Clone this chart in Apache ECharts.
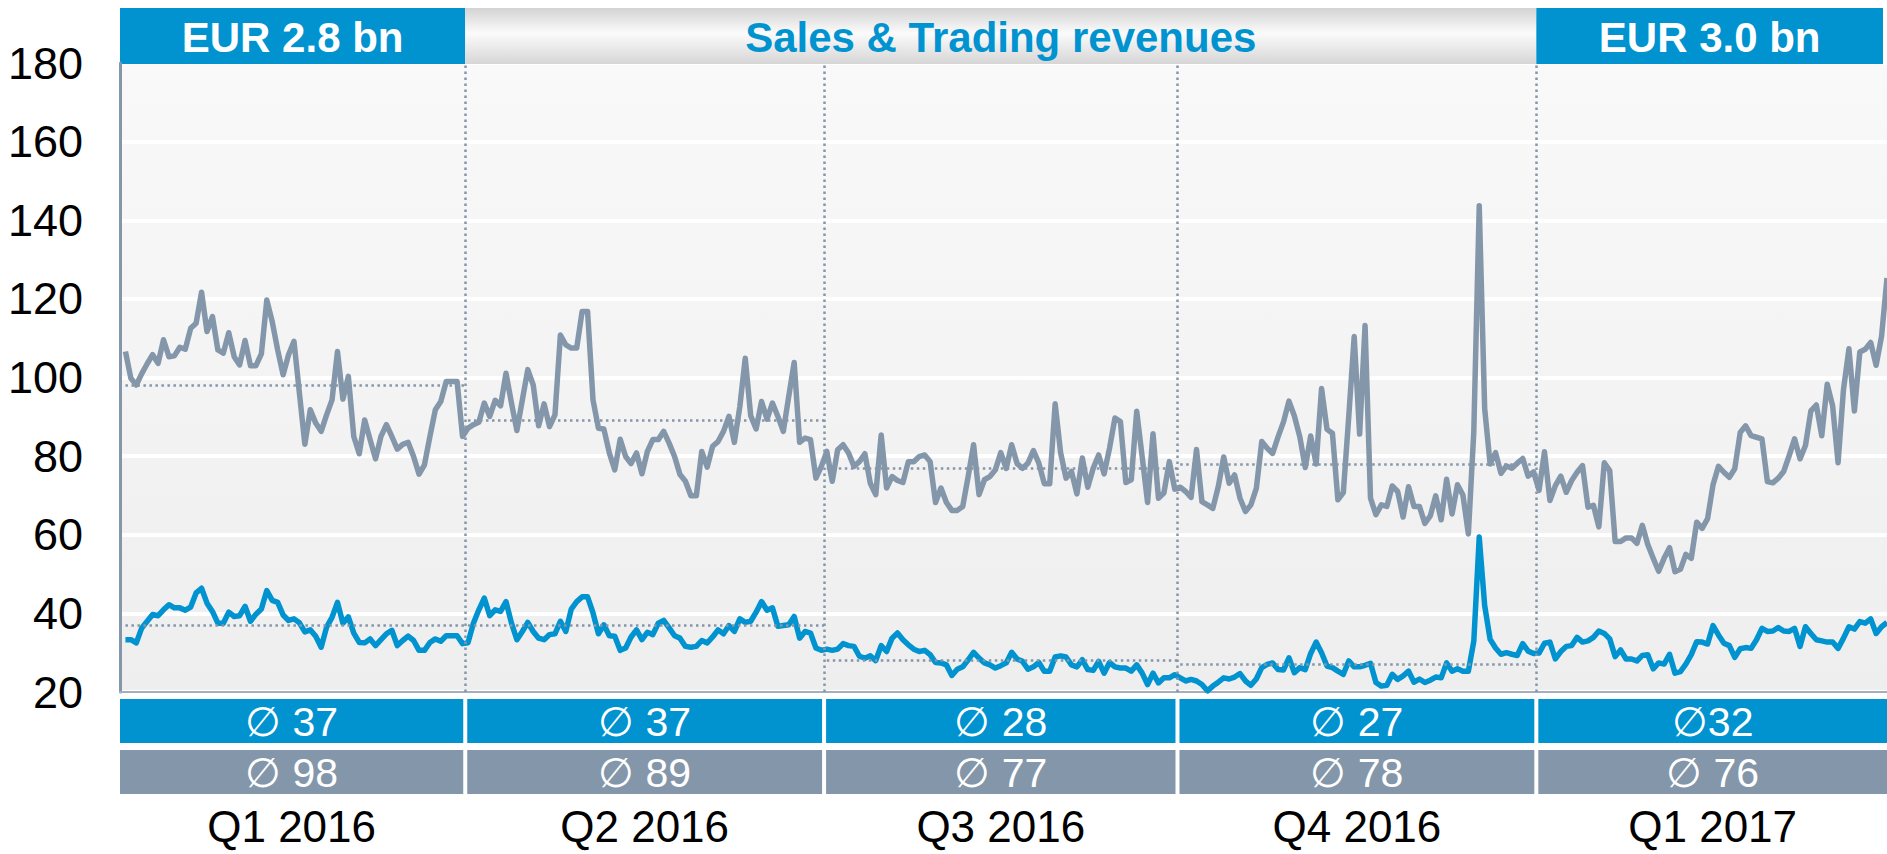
<!DOCTYPE html>
<html>
<head>
<meta charset="utf-8">
<title>Sales & Trading revenues</title>
<script src="https://cdn.jsdelivr.net/npm/echarts@6.0.0/dist/echarts.min.js"></script>
<style>
  html, body { margin: 0; padding: 0; background: #fff; }
  #chart { width: 1887px; height: 854px; }
</style>
</head>
<body>
<div id="chart"></div>
<script>
// daily values per quarter
const q1Gray = [106.6, 99.8, 98.1, 101, 103.5, 105.8, 103.6, 109.6, 105.3, 105.5, 107.7, 107.2, 112.5, 113.8, 121.7, 111.7, 115.5, 107, 106.2, 111.4, 105.3, 103.2, 109.4, 103, 103, 106, 119.7, 114.2, 107, 100.7, 105.8, 109.2, 96, 83, 91.8, 88.4, 86.3, 90.5, 94.3, 106.6, 94.5, 100.3, 85, 80.6, 89.2, 84.2, 79.3, 85, 88, 85, 81.8, 83, 83.5, 79.9, 75.4, 77.8, 85, 91.8, 93.9, 99, 99, 99, 85];
const q1Blue = [33.3, 33.3, 32.5, 36.3, 38, 39.7, 39.4, 40.9, 42.2, 41.4, 41.4, 40.8, 41.6, 45.2, 46.4, 42.6, 40.5, 37.5, 37.5, 40.3, 39.2, 39.4, 41.8, 38, 39.8, 41.1, 45.8, 43.3, 42.8, 39.6, 38.2, 38.6, 37.6, 35.3, 35.8, 34.2, 31.4, 36.5, 39, 42.8, 37.5, 39.1, 35, 32.6, 32.5, 33.5, 31.8, 33.3, 34.8, 35.7, 31.8, 33.1, 34.2, 33.1, 30.6, 30.6, 32.6, 33.5, 32.9, 34.3, 34.3, 34.3, 32.3];

const q2Gray = [87.1, 88, 88.6, 93.5, 90.1, 94.2, 92.8, 101.1, 93.5, 86.5, 94.3, 102, 98.1, 87.7, 93.3, 87.5, 90.5, 110.8, 108.3, 107.5, 107.5, 116.8, 116.8, 94.3, 87.1, 86.9, 80.8, 76.5, 84.3, 79.9, 78.1, 80.8, 75.5, 81.2, 84.2, 84.2, 86.3, 83.3, 79.9, 75.3, 73.6, 69.9, 69.9, 81.2, 77.2, 82.5, 83.7, 86.3, 90.1, 83.5, 92.6, 104.9, 90.3, 86.9, 93.9, 89.4, 93.5, 90.1, 86.3, 95.2, 103.8, 83.5, 84.6, 84.2, 74.4, 77.4];
const q2Blue = [32.5, 37.5, 40.9, 43.9, 39.4, 40.9, 40.5, 43, 37.5, 33.3, 35.4, 37.7, 35.4, 33.7, 33.3, 34.6, 34.8, 38, 35.4, 41.1, 43, 44.2, 44.2, 40.1, 34.8, 37.1, 34.3, 34.2, 30.6, 31.2, 34, 35.8, 33.3, 35.2, 34.6, 37.5, 38.2, 36.3, 34.3, 33.7, 31.6, 31.4, 31.6, 33.1, 32.5, 34, 35.8, 34.8, 36.9, 35.4, 38.6, 37.7, 38, 40.3, 43, 40.8, 41.4, 36.7, 36.9, 37.1, 39.2, 33.7, 35.4, 35, 31.2, 30.6];

const q3Gray = [81.2, 73.6, 81.6, 82.9, 80.8, 77.4, 78.6, 80.6, 73.1, 70.2, 85.4, 71.9, 74.8, 73.8, 73.3, 78.6, 78.6, 79.9, 80.3, 78.6, 68.2, 71.9, 68.2, 66.2, 66.2, 67.2, 74.8, 82.9, 70.2, 74, 74.8, 76.5, 80.9, 76.9, 82.9, 78.1, 76.9, 78.2, 81.4, 78.2, 73, 73, 93.3, 80.9, 74.4, 76.1, 70.4, 79.5, 72.1, 76.9, 80.3, 75.5, 82, 89.7, 88.8, 73.3, 74, 91.4, 79.9, 68.2, 85.7, 69.3, 70.6, 78.6, 71.6];
const q3Blue = [30.9, 30.6, 30.9, 32.3, 31.8, 31.6, 29.1, 28.6, 29.2, 28, 31.8, 30.3, 33.7, 35, 33.3, 32, 30.9, 30.3, 30.6, 29.5, 27.5, 27.4, 26.9, 24.2, 25.8, 26.4, 28.2, 30.1, 28.6, 27.4, 26.9, 26.1, 26.7, 27.4, 30.1, 28.4, 27.8, 25.8, 26.4, 27.5, 25.3, 25.3, 28.9, 29.2, 28.9, 26.9, 26.4, 28.2, 25.7, 25.5, 27.8, 24.8, 27.5, 26.4, 26.1, 26.1, 25.3, 26.9, 24.8, 21.9, 24.8, 22.3, 23.6, 23.6, 24.4];

const q4Gray = [72.1, 71, 69.5, 81.7, 68.4, 67.6, 66.7, 72.2, 79.8, 73.1, 75.2, 69.3, 65.9, 67.6, 71.8, 83.7, 82, 80.7, 84.9, 88.7, 94, 90.2, 84.9, 77.1, 85.1, 78, 97.2, 86.8, 85.8, 68.9, 70.7, 90, 110.4, 85.6, 113.2, 69.3, 65.1, 67.6, 67.2, 72.4, 71, 64.5, 72.2, 67.2, 67.2, 62.9, 64.8, 69.9, 63.8, 74.1, 65.3, 72.7, 70.1, 60.2, 86.2, 143.7, 92.1, 78, 80.9, 75.6, 77.5, 76.9, 78.2, 79.4, 74.9, 76];
const q4Blue = [23.6, 22.8, 23.2, 22.8, 21.9, 20.3, 21.5, 22.5, 23.6, 23.3, 23.8, 24.7, 22.8, 21.7, 23.3, 26.2, 27, 27.4, 25.7, 25.6, 28.7, 24.9, 26.2, 25.7, 29.8, 32.7, 30, 26.6, 26.2, 25.3, 24.5, 27.9, 26.4, 26.4, 26.8, 27.3, 22.4, 21.5, 21.7, 24.5, 23.2, 24.1, 25.3, 22.5, 23.3, 22.4, 23, 23.8, 23.6, 27.4, 25.3, 25.9, 25.3, 25.3, 32.9, 59.4, 42, 33.4, 31.2, 29.6, 30, 29.6, 29.3, 32.3, 30.4, 29.8];

const q5Gray = [71.3, 81.1, 68.7, 72.5, 74.9, 70.8, 73.8, 75.9, 77.6, 67, 67.5, 62, 78.3, 76.3, 58.3, 58.3, 59.2, 59.2, 57.8, 62.4, 57.5, 54, 50.7, 54, 56.7, 50.6, 51.2, 55, 54, 63.2, 61.6, 64.1, 72.7, 77.4, 75.9, 74.6, 76.8, 86, 87.7, 85.2, 84.8, 84.4, 73.5, 73.2, 74.4, 76.1, 80.1, 84.4, 79.3, 82.7, 91.5, 93, 85.2, 98.3, 92.8, 78.3, 97, 107.3, 91.5, 106.5, 107.2, 108.9, 103.1, 110.5, 125.3];
const q5Blue = [29.9, 32.4, 32.7, 28.4, 30.3, 31.6, 31.8, 33.9, 32.7, 33, 33.9, 35.5, 34.9, 33.5, 29, 30.7, 28.4, 28.4, 27.9, 29.3, 29.5, 25.9, 27.4, 27.1, 29.6, 24.8, 25.2, 27.1, 29.5, 32.8, 32.7, 32.2, 36.9, 34.5, 32.4, 31.8, 28.8, 31, 31.3, 31.1, 33.3, 36.2, 35.4, 35.5, 36.4, 35.5, 35.4, 36.2, 31.6, 36.6, 34.9, 33.3, 33, 32.7, 32.7, 31.1, 33.7, 36.6, 36, 37.9, 37.5, 38.6, 34.9, 36.6, 37.7];

const quarters = ['Q1 2016', 'Q2 2016', 'Q3 2016', 'Q4 2016', 'Q1 2017'];
const blueAvg = [37, 37, 28, 27, 32];
const grayAvg = [98, 89, 77, 78, 76];
const blueAvgLabels = ['\u2205 37', '\u2205 37', '\u2205 28', '\u2205 27', '\u220532'];
const grayAvgLabels = ['\u2205 98', '\u2205 89', '\u2205 77', '\u2205 78', '\u2205 76'];
const headerTexts = ['EUR 2.8 bn', 'Sales & Trading revenues', 'EUR 3.0 bn'];
const yMin = 20, yMax = 180, yStep = 20;

const BLUE = '#0093d0';
const GRAY = '#8497aa';
const FONT = '"Liberation Sans", Arial, sans-serif';

// flatten the quarters into one day index
const grayQ = [q1Gray, q2Gray, q3Gray, q4Gray, q5Gray];
const blueQ = [q1Blue, q2Blue, q3Blue, q4Blue, q5Blue];
const gray = [], blue = [], ranges = [];
grayQ.forEach(function (q, k) {
  const start = gray.length;
  q.forEach(function (v) { gray.push([gray.length, v]); });
  blueQ[k].forEach(function (v) { blue.push([blue.length, v]); });
  ranges.push([start, gray.length - 1]);
});
const lastIdx = gray.length - 1;
const dividers = ranges.slice(0, -1).map(function (r) { return r[1] + 0.5; });

function avgSegments(avgs) {
  return ranges.map(function (r, k) {
    return [{coord: [r[0], avgs[k]]}, {coord: [r[1] + 0.5, avgs[k]]}];
  });
}

const dotted = {color: GRAY, width: 2.5, type: [2.5, 3.5], opacity: 1};

const chart = echarts.init(document.getElementById('chart'), null, {renderer: 'svg'});
chart.setOption({
  animation: false,
  grid: {
    left: 120, right: 0, top: 63, bottom: 162,
    show: true, borderWidth: 0,
    backgroundColor: new echarts.graphic.LinearGradient(0, 0, 0, 1, [
      {offset: 0, color: '#f9f9f9'},
      {offset: 1, color: '#eeeeee'}
    ])
  },
  xAxis: {
    type: 'value', min: -1, max: lastIdx,
    axisLine: {show: true, onZero: false, lineStyle: {color: '#a3afbc', width: 2}},
    axisTick: {show: false}, axisLabel: {show: false}, splitLine: {show: false}
  },
  yAxis: {
    type: 'value', min: yMin, max: yMax, interval: yStep,
    axisLine: {show: true, onZero: false, lineStyle: {color: GRAY, width: 3}},
    axisTick: {show: false},
    axisLabel: {color: '#000', fontSize: 45, fontFamily: FONT, margin: 37},
    splitLine: {show: true, lineStyle: {color: '#ffffff', width: 4}}
  },
  series: [
    {
      name: 'gray', type: 'line', data: gray, showSymbol: false, z: 3,
      lineStyle: {color: GRAY, width: 5.5, join: 'round'},
      markLine: {
        silent: true, symbol: 'none', label: {show: false}, lineStyle: dotted,
        data: avgSegments(grayAvg).concat(dividers.map(function (d) { return {xAxis: d}; }))
      }
    },
    {
      name: 'blue', type: 'line', data: blue, showSymbol: false, z: 4,
      lineStyle: {color: BLUE, width: 5.5, join: 'round'},
      markLine: {
        silent: true, symbol: 'none', label: {show: false}, lineStyle: dotted,
        data: avgSegments(blueAvg)
      }
    }
  ]
});

// header and table boxes follow the quarter boundaries of the x scale
const px = function (x) { return chart.convertToPixel({xAxisIndex: 0}, x); };
const edges = [px(-1)].concat(dividers.map(px)).concat([px(lastIdx)]);

function label(text, cx, cy, size, color, weight) {
  return {
    type: 'text', x: cx, y: cy, z: 20,
    style: {
      text: text, fill: color, font: (weight || 'normal') + ' ' + size + 'px ' + FONT,
      align: 'center', verticalAlign: 'middle',
      textAlign: 'center', textVerticalAlign: 'middle'
    }
  };
}

const g = [];
// header
const hTop = 8, hH = 56;
g.push({type: 'rect', shape: {x: edges[0], y: hTop, width: edges[1] - edges[0], height: hH}, style: {fill: BLUE}});
g.push({type: 'rect', shape: {x: edges[1], y: hTop, width: edges[4] - edges[1], height: hH},
  style: {fill: new echarts.graphic.LinearGradient(0, 0, 0, 1, [
    {offset: 0, color: '#d3d3d3'}, {offset: 0.45, color: '#fbfbfb'}, {offset: 1, color: '#d6d6d6'}
  ])}});
g.push({type: 'rect', shape: {x: edges[4], y: hTop, width: edges[5] - edges[4] - 4, height: hH}, style: {fill: BLUE}});
g.push(label(headerTexts[0], (edges[0] + edges[1]) / 2, hTop + hH / 2 + 1, 42, '#fff', 'bold'));
g.push(label(headerTexts[1], (edges[1] + edges[4]) / 2, hTop + hH / 2 + 1, 42, BLUE, 'bold'));
g.push(label(headerTexts[2], (edges[4] + edges[5] - 4) / 2, hTop + hH / 2 + 1, 42, '#fff', 'bold'));

// average rows and quarter names
const rowBlueY = 699, rowGrayY = 750, rowH = 44;
for (let k = 0; k < quarters.length; k++) {
  const x0 = edges[k] + (k === 0 ? 0 : 2);
  const x1 = edges[k + 1] - (k === quarters.length - 1 ? 0 : 2);
  const cx = (x0 + x1) / 2;
  g.push({type: 'rect', shape: {x: x0, y: rowBlueY, width: x1 - x0, height: rowH}, style: {fill: BLUE}});
  g.push({type: 'rect', shape: {x: x0, y: rowGrayY, width: x1 - x0, height: rowH}, style: {fill: GRAY}});
  g.push(label(blueAvgLabels[k], cx, rowBlueY + rowH / 2 + 1, 41, '#fff'));
  g.push(label(grayAvgLabels[k], cx, rowGrayY + rowH / 2 + 1, 41, '#fff'));
  g.push(label(quarters[k], cx, 826, 44, '#000'));
}
chart.setOption({graphic: g});
</script>
</body>
</html>
